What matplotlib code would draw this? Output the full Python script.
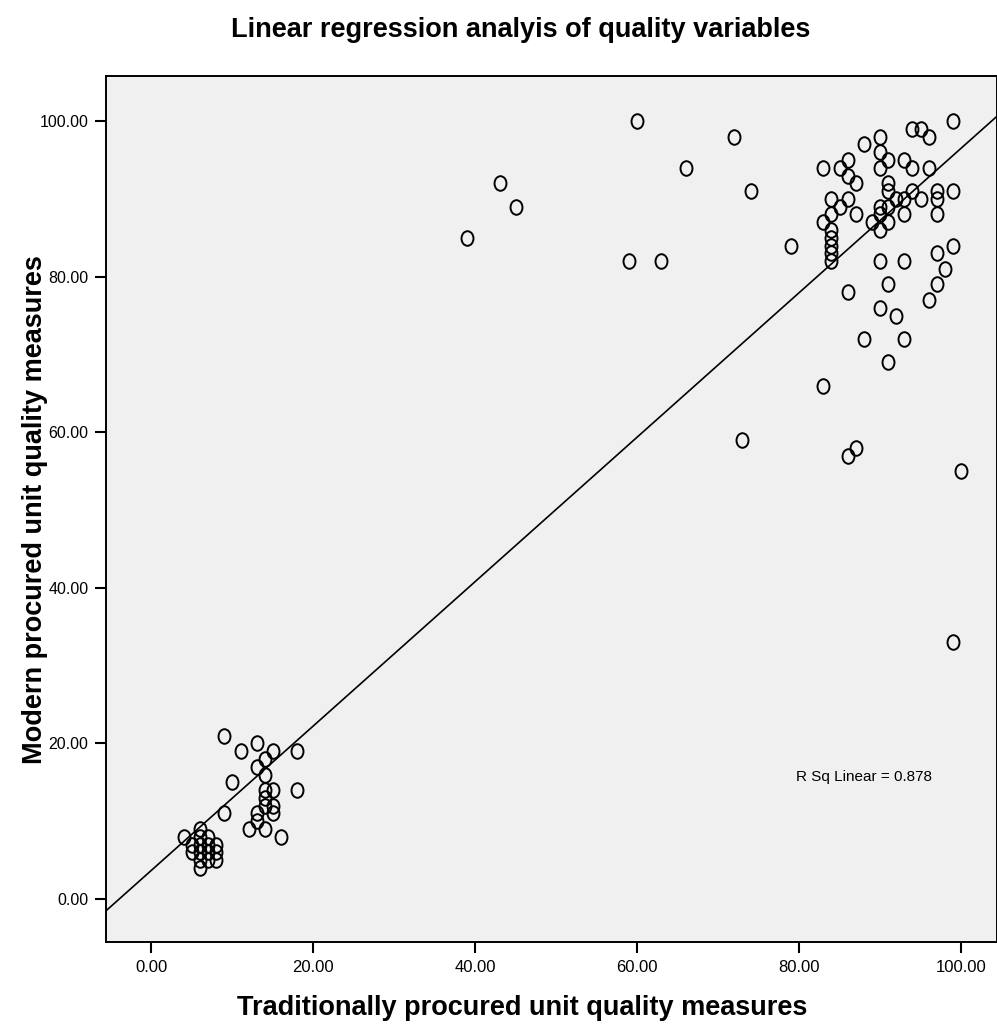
import numpy as np
import matplotlib
matplotlib.use("Agg")
import matplotlib.pyplot as plt
from matplotlib.path import Path
from matplotlib.transforms import Affine2D

# traditionally procured (x) / modern procured (y) quality scores
traditional = [
    39, 43, 45, 59, 60, 63, 66, 72, 74, 79, 73, 99,
    99, 94, 95, 96, 90, 88, 90, 86, 91, 93, 83, 85, 90, 94, 96, 86, 87, 91,
    91, 94, 97, 99, 84, 86, 92, 93, 95, 97, 85, 91, 90, 84, 87, 90, 89, 91,
    90, 93, 97, 83, 84, 84, 84, 84, 84, 90, 93, 97, 99, 98, 91, 97, 86,
    96, 90, 92, 88, 93, 91, 83, 87, 86, 100,
    9, 11, 13, 15, 18, 14, 13, 14, 10, 14, 15, 18, 14, 14, 15, 15, 13, 9,
    13, 12, 14, 16,
    4, 6, 6, 7, 5, 6, 7, 8, 5, 6, 7, 8, 6, 7, 8, 6,
]
modern = [
    85, 92, 89, 82, 100, 82, 94, 98, 91, 84, 59, 33,
    100, 99, 99, 98, 98, 97, 96, 95, 95, 95, 94, 94, 94, 94, 94, 93, 92, 92,
    91, 91, 91, 91, 90, 90, 90, 90, 90, 90, 89, 89, 89, 88, 88, 88, 87, 87,
    86, 88, 88, 87, 86, 85, 84, 83, 82, 82, 82, 83, 84, 81, 79, 79, 78,
    77, 76, 75, 72, 72, 69, 66, 58, 57, 55,
    21, 19, 20, 19, 19, 18, 17, 16, 15, 14, 14, 14, 13, 12, 12, 11, 11, 11,
    10, 9, 9, 8,
    8, 9, 8, 8, 7, 7, 7, 7, 6, 6, 6, 6, 5, 5, 5, 4,
]
x_ticks = [0, 20, 40, 60, 80, 100]
y_ticks = [0, 20, 40, 60, 80, 100]

# fit line as shown in the chart (some points overlap, so read it off)
fit_intercept = 3.7
fit_slope = 0.928
r_sq_label = "R Sq Linear = 0.878"

narrow = ["Liberation Sans Narrow", "Liberation Sans", "DejaVu Sans"]
regular = ["Liberation Sans", "DejaVu Sans"]

x = np.array(traditional, dtype=float)
y = np.array(modern, dtype=float)

fig = plt.figure(figsize=(9.97, 10.30), dpi=100)
ax = fig.add_axes([0.1068, 0.0854, 0.8932, 0.8408])
ax.set_facecolor("#F0F0F0")

xlim = (-5.56, 104.45)
ylim = (-5.53, 105.8)

# slightly tall open circles, like the SPSS markers
oval = Path.unit_circle().transformed(Affine2D().scale(0.82, 1.0))
ax.plot(x, y, linestyle="none", marker=oval, markersize=10.5,
        markerfacecolor="none", markeredgecolor="black", markeredgewidth=1.4)

xs = np.array(xlim)
ax.plot(xs, fit_intercept + fit_slope * xs, color="black", linewidth=1.2)

ax.text(96.4, 15.7, r_sq_label, ha="right", va="center", fontsize=11,
        family=narrow)

ax.set_xlim(*xlim)
ax.set_ylim(*ylim)
ax.set_xticks(x_ticks)
ax.set_yticks(y_ticks)
ax.set_xticklabels([f"{v:.2f}" for v in x_ticks], family=narrow, fontsize=12)
ax.set_yticklabels([f"{v:.2f}" for v in y_ticks], family=regular, fontsize=11.5)
ax.tick_params(axis="both", direction="out", length=8, width=1.5, pad=5)
for s in ax.spines.values():
    s.set_linewidth(1.4)

ax.set_xlabel("Traditionally procured unit quality measures", family=narrow,
              fontsize=19.5, fontweight="bold")
ax.xaxis.set_label_coords(0.467, -0.061)
ax.set_ylabel("Modern procured unit quality measures", family=regular,
              fontsize=19.5, fontweight="bold")
ax.yaxis.set_label_coords(-0.066, 0.499)
fig.text(0.5226, 0.971, "Linear regression analyis of quality variables",
         ha="center", va="center", family=narrow, fontsize=19.5,
         fontweight="bold")

fig.savefig("out.png", dpi=100, facecolor="white")
